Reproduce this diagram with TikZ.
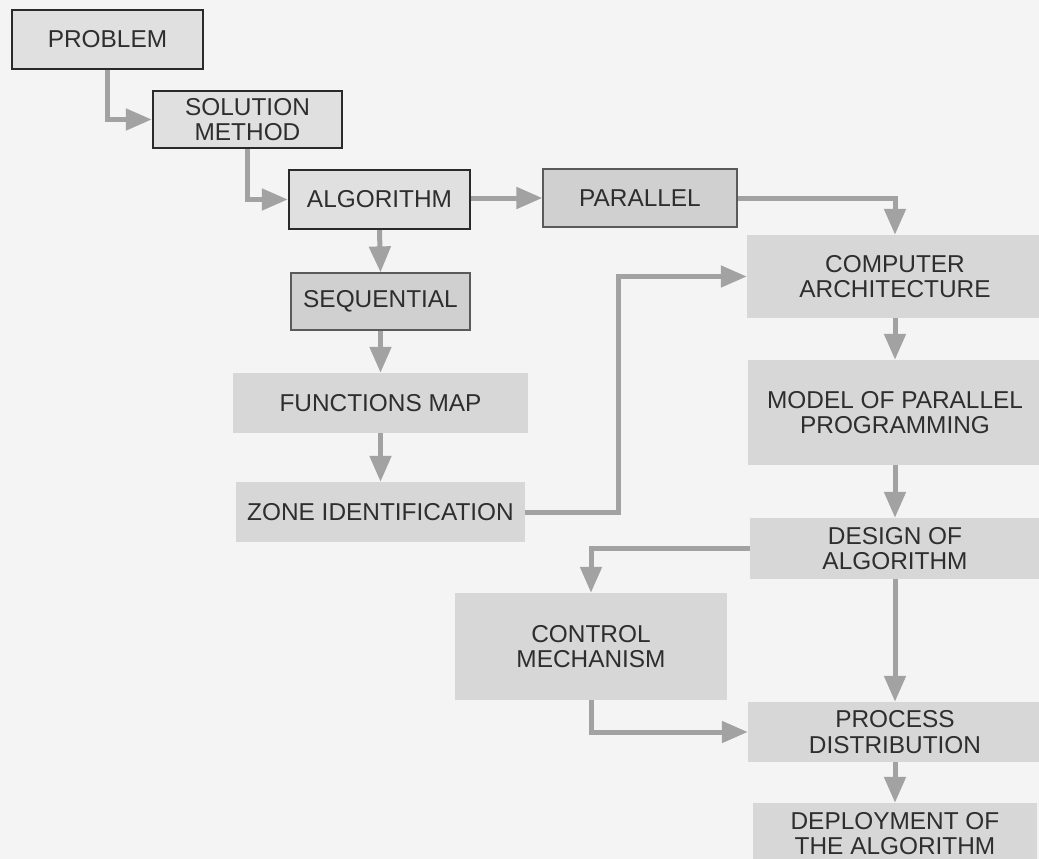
\documentclass[tikz,border=0pt]{standalone}
\usepackage{fontspec}
\setmainfont{Liberation Sans}
\usetikzlibrary{arrows.meta}
\definecolor{paper}{HTML}{F4F4F4}
\definecolor{boxA}{HTML}{E0E0E0}
\definecolor{boxB}{HTML}{D0D0D0}
\definecolor{boxC}{HTML}{D7D7D7}
\definecolor{edgeA}{HTML}{2A2A2A}
\definecolor{edgeB}{HTML}{5A5A5A}
\definecolor{arrowgray}{HTML}{A2A2A2}
\definecolor{ink}{HTML}{2E2E2E}
\tikzset{
  base/.style={rectangle, inner sep=0pt, align=center, text=ink,
    font=\fontsize{24.4}{25.5}\selectfont},
  strongbox/.style={base, fill=boxA, draw=edgeA, line width=2.4pt},
  thinbox/.style={base, fill=boxB, draw=edgeB, line width=1.2pt},
  plainbox/.style={base, fill=boxC},
  arr/.style={draw=arrowgray, line width=5pt,
    -{Triangle[length=26pt,width=21pt]}, color=arrowgray}
}
\begin{document}
\begin{tikzpicture}[x=1pt,y=-1pt]
\fill[paper] (0,0) rectangle (1039,859);
\useasboundingbox (0,0) rectangle (1039,859);
\clip (0,0) rectangle (1039,859);
% left chain
\node[strongbox, minimum width=191pt, minimum height=59pt] (prob) at (107.5,39.5) {PROBLEM};
\node[strongbox, minimum width=189pt, minimum height=57pt] (sol) at (247.5,119.5) {SOLUTION\\METHOD};
\node[strongbox, minimum width=181pt, minimum height=59pt] (alg) at (379.5,199.5) {ALGORITHM};
\node[thinbox, minimum width=194pt, minimum height=58pt] (par) at (640,198) {PARALLEL};
\node[thinbox, minimum width=179pt, minimum height=57pt] (seq) at (380.5,301.5) {SEQUENTIAL};
\node[plainbox, minimum width=295pt, minimum height=60pt] (fun) at (380.5,403) {FUNCTIONS MAP};
\node[plainbox, minimum width=289pt, minimum height=60pt] (zone) at (380.5,512) {ZONE IDENTIFICATION};
% right column
\node[plainbox, minimum width=296pt, minimum height=83pt] (comp) at (895,276.5) {COMPUTER\\ARCHITECTURE};
\node[plainbox, minimum width=294pt, minimum height=105pt] (model) at (895,412.5) {MODEL OF PARALLEL\\PROGRAMMING};
\node[plainbox, minimum width=290pt, minimum height=61pt] (design) at (895,548.5) {DESIGN OF\\ALGORITHM};
\node[plainbox, minimum width=272pt, minimum height=107pt] (ctrl) at (591,646.5) {CONTROL\\MECHANISM};
\node[plainbox, minimum width=294pt, minimum height=60pt] (proc) at (895,732) {PROCESS\\DISTRIBUTION};
\node[plainbox, minimum width=284pt, minimum height=61pt] (dep) at (895,833.5) {DEPLOYMENT OF\\THE ALGORITHM};
% connectors
\draw[arr] (prob.south) |- (sol.west);
\draw[arr] (sol.south) |- (alg.west);
\draw[arr] (alg.east |- par.west) -- (par.west);
\draw[arr] (par.east) -| (comp.north);
\draw[arr] (alg.south) -- (seq.north);
\draw[arr] (seq.south) -- (fun.north);
\draw[arr] (fun.south) -- (zone.north);
\draw[arr] (zone.east) -- ++(93,0) |- (comp.west);
\draw[arr] (comp.south) -- (model.north);
\draw[arr] (model.south) -- (design.north);
\draw[arr] (design.south) -- (proc.north);
\draw[arr] (proc.south) -- (dep.north);
\draw[arr] (design.west) -| (ctrl.north);
\draw[arr] (ctrl.south) |- (proc.west);
\end{tikzpicture}
\end{document}
